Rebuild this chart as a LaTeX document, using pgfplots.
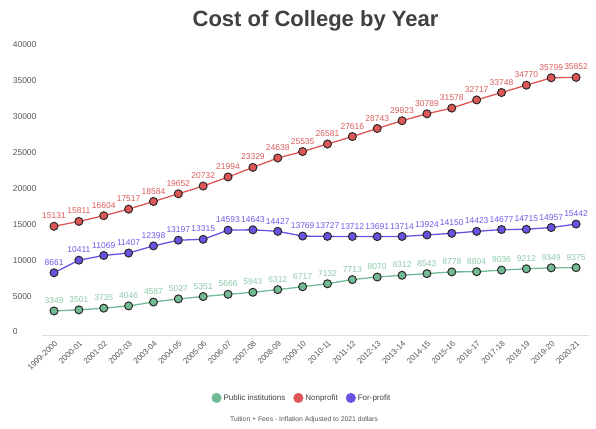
\documentclass[border=0pt]{standalone}
\usepackage{pgfplots}
\pgfplotsset{compat=1.18}
\usepackage{fontspec}
\setmainfont{Liberation Sans}
\definecolor{pubc}{RGB}{112,186,148}
\definecolor{publab}{RGB}{140,200,168}
\definecolor{nonc}{RGB}{222,86,86}
\definecolor{nonlab}{RGB}{218,92,92}
\definecolor{forc}{RGB}{104,82,226}
\definecolor{forlab}{RGB}{110,92,230}
\definecolor{edgec}{RGB}{45,40,40}
\definecolor{titlec}{RGB}{64,64,64}
\definecolor{tickc}{RGB}{85,85,85}
\begin{document}
\begin{tikzpicture}[x=1pt,y=1pt]
\useasboundingbox (0,0) rectangle (596,428);
\node[font=\fontsize{22}{25}\selectfont\bfseries, text=titlec] at (315.5,407) {Cost of College by Year};
\node[font=\fontsize{6.8}{8}\selectfont, text=tickc] at (304,8) {Tuition + Fees - Inflation Adjusted to 2021 dollars};
\begin{axis}[
  at={(41.6pt,93pt)}, anchor=south west, scale only axis,
  width=546.9pt, height=287.4pt,
  xmin=-0.5, xmax=21.5, ymin=0, ymax=40000,
  clip=false,
  separate axis lines,
  axis x line*=bottom, axis y line*=left,
  x axis line style={draw={rgb,255:red,222;green,222;blue,222}, line width=0.8pt, -},
  y axis line style={draw=none},
  major tick length=0pt,
  ytick={0,5000,...,40000},
  scaled y ticks=false,
  /pgf/number format/1000 sep={},
  /pgf/number format/assume math mode=true,
  yticklabel style={inner sep=0pt, anchor=west, xshift=-29pt, yshift=3pt, font=\fontsize{8.5}{10}\selectfont, text=tickc},
  xtick={0,...,21},
  xticklabels={1999-2000,2000-01,2001-02,2002-03,2003-04,2004-05,2005-06,2006-07,2007-08,2008-09,2009-10,2010-11,2011-12,2012-13,2013-14,2014-15,2015-16,2016-17,2017-18,2018-19,2019-20,2020-21},
  xticklabel style={rotate=45, anchor=north east, font=\fontsize{8}{9}\selectfont, text=tickc},
  legend style={at={(0.476,-0.219)}, anchor=center, draw=none, fill=none,
    font=\fontsize{8}{9}\selectfont, text=titlec, legend columns=3,
    /tikz/every even column/.append style={column sep=6pt}},
  legend cell align=left,
  nodes near coords,
  every node near coord/.append style={font=\fontsize{8.5}{10}\selectfont, yshift=3.5pt},
  mark size=4pt,
]
\addlegendimage{legend image code/.code={\fill[pubc] (0.2cm,0pt) circle (4.8pt);}}
\addlegendentry{Public institutions}
\addlegendimage{legend image code/.code={\fill[nonc] (0.2cm,0pt) circle (4.8pt);}}
\addlegendentry{Nonprofit}
\addlegendimage{legend image code/.code={\fill[forc] (0.2cm,0pt) circle (4.8pt);}}
\addlegendentry{For-profit}

\addplot[forget plot, color=pubc, line width=1.3pt, mark=*, mark options={draw=edgec, fill=pubc, line width=1pt},
  every node near coord/.append style={text=publab}]
coordinates {(0,3349)(1,3501)(2,3735)(3,4046)(4,4587)(5,5027)(6,5351)(7,5666)(8,5943)(9,6312)(10,6717)(11,7132)(12,7713)(13,8070)(14,8312)(15,8543)(16,8778)(17,8804)(18,9036)(19,9212)(20,9349)(21,9375)};

\addplot[forget plot, color=nonc, line width=1.3pt, mark=*, mark options={draw=edgec, fill=nonc, line width=1pt},
  every node near coord/.append style={text=nonlab}]
coordinates {(0,15131)(1,15811)(2,16604)(3,17517)(4,18584)(5,19652)(6,20732)(7,21994)(8,23329)(9,24638)(10,25535)(11,26581)(12,27616)(13,28743)(14,29823)(15,30789)(16,31578)(17,32717)(18,33748)(19,34770)(20,35799)(21,35852)};

\addplot[forget plot, color=forc, line width=1.3pt, mark=*, mark options={draw=edgec, fill=forc, line width=1pt},
  every node near coord/.append style={text=forlab}]
coordinates {(0,8661)(1,10411)(2,11069)(3,11407)(4,12398)(5,13197)(6,13315)(7,14593)(8,14643)(9,14427)(10,13769)(11,13727)(12,13712)(13,13691)(14,13714)(15,13924)(16,14150)(17,14423)(18,14677)(19,14715)(20,14957)(21,15442)};
\end{axis}
\end{tikzpicture}
\end{document}
